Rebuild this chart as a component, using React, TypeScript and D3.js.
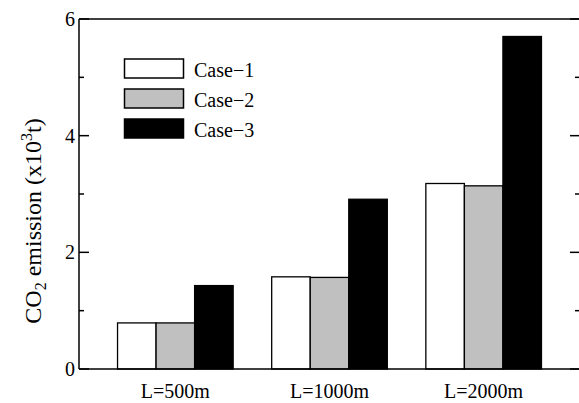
import React, { useEffect, useRef } from 'react';
import * as d3 from 'd3';

const width = 579;
const height = 403;

const groups = ['L=500m', 'L=1000m', 'L=2000m'];
const cases = ['Case\u22121', 'Case\u22122', 'Case\u22123'];
const case1 = [0.79, 1.58, 3.18];
const case2 = [0.79, 1.57, 3.14];
const case3 = [1.43, 2.91, 5.7];
const colors = ['#ffffff', '#c0c0c0', '#000000'];
const majorTicks = [0, 2, 4, 6];
const minorTicks = [1, 3, 5];

const margin = { top: 19, right: 0, bottom: 34, left: 79 };
const font = '"Liberation Serif", "Times New Roman", serif';

export default function App() {
  const ref = useRef<SVGSVGElement>(null);

  useEffect(() => {
    const svg = d3.select(ref.current);
    svg.selectAll('*').remove();

    const x0 = margin.left;
    const x1 = 580;
    const yTop = margin.top;
    const yBottom = height - margin.bottom; // 369

    const x = d3.scaleBand<string>().domain(groups).range([x0, x1]).paddingInner(0.25).paddingOuter(0.25);
    const xSub = d3.scaleBand<number>().domain([0, 1, 2]).range([0, x.bandwidth()]);
    const y = d3.scaleLinear().domain([0, 6]).range([yBottom, yTop]);

    const series = [case1, case2, case3];

    // bars
    const g = svg.append('g');
    series.forEach((vals, si) => {
      g.selectAll(null)
        .data(vals)
        .enter()
        .append('rect')
        .attr('x', (_, i) => (x(groups[i]) as number) + (xSub(si) as number))
        .attr('y', (d) => y(d))
        .attr('width', xSub.bandwidth())
        .attr('height', (d) => y(0) - y(d))
        .attr('fill', colors[si])
        .attr('stroke', '#000')
        .attr('stroke-width', 1.3);
    });

    // frame
    const frame = svg.append('g').attr('stroke', '#000').attr('stroke-width', 1.5).attr('fill', 'none');
    frame.append('line').attr('x1', x0).attr('x2', x0).attr('y1', yTop).attr('y2', yBottom);
    frame.append('line').attr('x1', x0).attr('x2', x1).attr('y1', yTop).attr('y2', yTop);
    frame.append('line').attr('x1', x0).attr('x2', x1).attr('y1', yBottom).attr('y2', yBottom);
    frame.append('line').attr('x1', x1).attr('x2', x1).attr('y1', yTop).attr('y2', yBottom);

    // ticks left and right, pointing inward
    [[x0, 1], [x1, -1]].forEach(([xx, dir]) => {
      frame.selectAll(null).data(majorTicks).enter().append('line')
        .attr('x1', xx).attr('x2', xx + dir * 10)
        .attr('y1', (d) => y(d)).attr('y2', (d) => y(d));
      frame.selectAll(null).data(minorTicks).enter().append('line')
        .attr('x1', xx).attr('x2', xx + dir * 5)
        .attr('y1', (d) => y(d)).attr('y2', (d) => y(d));
    });

    // tick labels
    svg.append('g')
      .selectAll('text')
      .data(majorTicks)
      .enter()
      .append('text')
      .attr('x', x0 - 4)
      .attr('y', (d) => y(d) + 7)
      .attr('text-anchor', 'end')
      .attr('font-family', font)
      .attr('font-size', 20)
      .text((d) => d);

    // category labels
    svg.append('g')
      .selectAll('text')
      .data(groups)
      .enter()
      .append('text')
      .attr('x', (d) => (x(d) as number) + x.bandwidth() / 2)
      .attr('y', 398)
      .attr('text-anchor', 'middle')
      .attr('font-family', font)
      .attr('font-size', 20)
      .text((d) => d);

    // y title
    const title = svg.append('text')
      .attr('transform', `translate(41, 221) rotate(-90)`)
      .attr('text-anchor', 'middle')
      .attr('font-family', font)
      .attr('font-size', 24);
    title.append('tspan').text('CO');
    title.append('tspan').attr('font-size', 16).attr('dy', 5).text('2');
    title.append('tspan').attr('dy', -5).text(' emission (x10');
    title.append('tspan').attr('font-size', 16).attr('dy', -9).text('3');
    title.append('tspan').attr('dy', 9).text('t)');

    // legend
    const legend = svg.append('g');
    const legendY = d3.scaleBand<string>().domain(cases).range([59, 149]);
    cases.forEach((c, i) => {
      const ly = legendY(c) as number;
      legend.append('rect')
        .attr('x', 124.5).attr('y', ly)
        .attr('width', 59).attr('height', 19)
        .attr('fill', colors[i])
        .attr('stroke', '#000')
        .attr('stroke-width', 1.5);
      legend.append('text')
        .attr('x', 194).attr('y', ly + 18)
        .attr('font-family', font)
        .attr('font-size', 20)
        .text(c);
    });
  }, []);

  return (
    <svg
      ref={ref}
      width={width}
      height={height}
      style={{ position: 'absolute', left: 0, top: 0, background: '#fff' }}
    />
  );
}
